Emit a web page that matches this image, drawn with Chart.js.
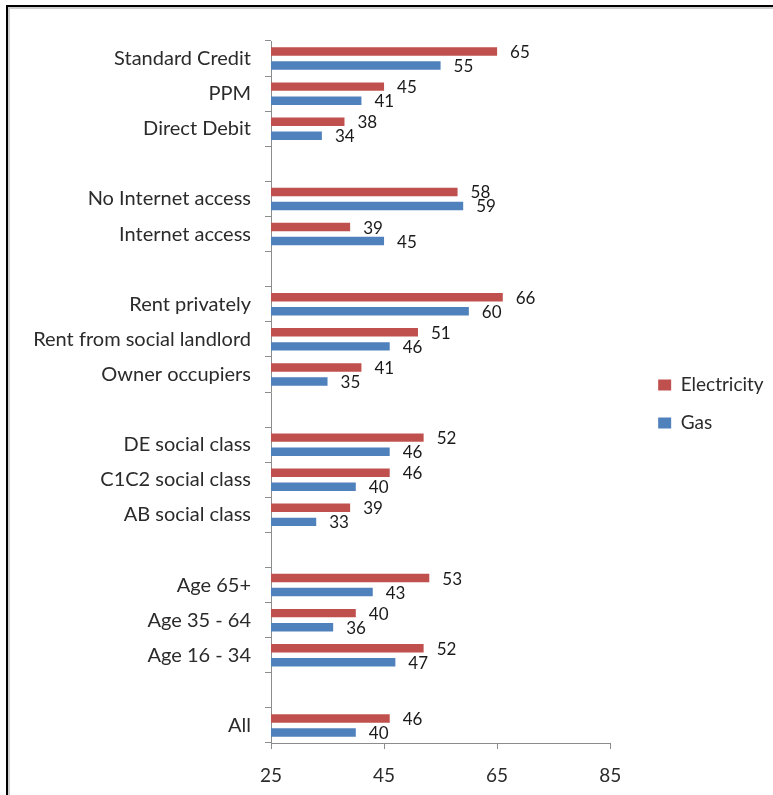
<!DOCTYPE html>
<html lang="en">
<head>
    <meta charset="UTF-8">
    <title>Electricity and Gas by group</title>
    <script src="https://cdn.jsdelivr.net/npm/chart.js"></script>
    <style>
        html, body {
            margin: 0;
            padding: 0;
            background: #fff;
        }
        body {
            width: 773px;
            height: 795px;
            position: relative;
            overflow: hidden;
        }
        .chart-box {
            position: absolute;
            left: 0;
            top: 0;
            width: 773px;
            height: 795px;
        }
        /* the frame around the pasted chart (top and left edges only) */
        .frame {
            position: absolute;
            left: 6px;
            top: 5px;
            right: -20px;
            bottom: -20px;
            border-left: 2px solid #000;
            border-top: 2px solid #000;
            pointer-events: none;
        }
        .frame::after {
            content: '';
            position: absolute;
            left: 0;
            top: 0;
            right: 0;
            bottom: 0;
            border-left: 2px solid #cfcfcf;
            border-top: 2px solid #cfcfcf;
        }
    </style>
</head>
<body>
    <div class="chart-box">
        <canvas id="barChart"></canvas>
    </div>
    <div class="frame"></div>

    <script>
        // Data (top to bottom, '' = spacer rows)
        const categories = [
            'Standard Credit', 'PPM', 'Direct Debit', '',
            'No Internet access', 'Internet access', '',
            'Rent privately', 'Rent from social landlord', 'Owner occupiers', '',
            'DE social class', 'C1C2 social class', 'AB social class', '',
            'Age 65+', 'Age 35 - 64', 'Age 16 - 34', '',
            'All'
        ];
        const electricity = [65, 45, 38, null, 58, 39, null, 66, 51, 41, null, 52, 46, 39, null, 53, 40, 52, null, 46];
        const gas = [55, 41, 34, null, 59, 45, null, 60, 46, 35, null, 46, 40, 33, null, 43, 36, 47, null, 40];
        const xTickValues = [25, 45, 65, 85];

        const fontFamily = 'Lato, "Liberation Sans", sans-serif';
        const textColor = '#2b2b2b';
        const axisColor = '#8c8c8c';

        Chart.defaults.font.family = fontFamily;
        Chart.defaults.color = textColor;

        // number labels just past the end of each bar
        const valueLabels = {
            id: 'valueLabels',
            afterDatasetsDraw(chart) {
                const ctx = chart.ctx;
                ctx.save();
                ctx.font = '17px ' + fontFamily;
                ctx.fillStyle = '#1a1a1a';
                ctx.textAlign = 'left';
                ctx.textBaseline = 'middle';
                chart.data.datasets.forEach((ds, i) => {
                    chart.getDatasetMeta(i).data.forEach((bar, j) => {
                        const v = ds.data[j];
                        if (v == null) return;
                        ctx.fillText(String(v), bar.x + 13, bar.y + 1);
                    });
                });
                ctx.restore();
            }
        };

        const ctx = document.getElementById('barChart').getContext('2d');
        new Chart(ctx, {
            type: 'bar',
            data: {
                labels: categories,
                datasets: [
                    {
                        label: 'Electricity',
                        data: electricity,
                        backgroundColor: '#C0504D',
                        xAxisID: 'x',
                        yAxisID: 'y'
                    },
                    {
                        label: 'Gas',
                        data: gas,
                        backgroundColor: '#4F81BD',
                        xAxisID: 'x',
                        yAxisID: 'y'
                    }
                ]
            },
            options: {
                indexAxis: 'y',
                responsive: true,
                maintainAspectRatio: false,
                animation: false,
                categoryPercentage: 0.8,
                barPercentage: 0.6,
                layout: {
                    padding: { top: 13, right: 6, bottom: 0, left: 0 }
                },
                scales: {
                    x: {
                        position: 'bottom',
                        min: 25,
                        max: 85,
                        afterBuildTicks: scale => {
                            scale.ticks = xTickValues.map(v => ({ value: v }));
                        },
                        afterFit: scale => { scale.height = 52; },
                        grid: { drawOnChartArea: false, tickLength: 6, color: axisColor },
                        border: { color: axisColor },
                        ticks: { padding: 15, font: { size: 19 }, color: textColor }
                    },
                    y: {
                        position: 'left',
                        afterFit: scale => { scale.width = 271; },
                        grid: { offset: true, drawOnChartArea: false, tickLength: 6, color: axisColor },
                        border: { color: axisColor },
                        ticks: { autoSkip: false, padding: 14, font: { size: 20 }, color: textColor }
                    },
                    // empty spacer axes: room above the plot and between plot and legend
                    xTop: {
                        type: 'linear',
                        axis: 'x',
                        position: 'top',
                        afterFit: scale => { scale.height = 28; },
                        grid: { display: false },
                        border: { display: false },
                        ticks: { display: false }
                    },
                    yRight: {
                        type: 'category',
                        axis: 'y',
                        position: 'right',
                        afterFit: scale => { scale.width = 29; },
                        grid: { display: false },
                        border: { display: false },
                        ticks: { display: false }
                    }
                },
                plugins: {
                    legend: {
                        position: 'right',
                        labels: {
                            boxWidth: 13,
                            boxHeight: 11,
                            padding: 19,
                            font: { size: 19 },
                            color: textColor
                        }
                    },
                    tooltip: { enabled: false }
                }
            },
            plugins: [valueLabels]
        });
    </script>
</body>
</html>
